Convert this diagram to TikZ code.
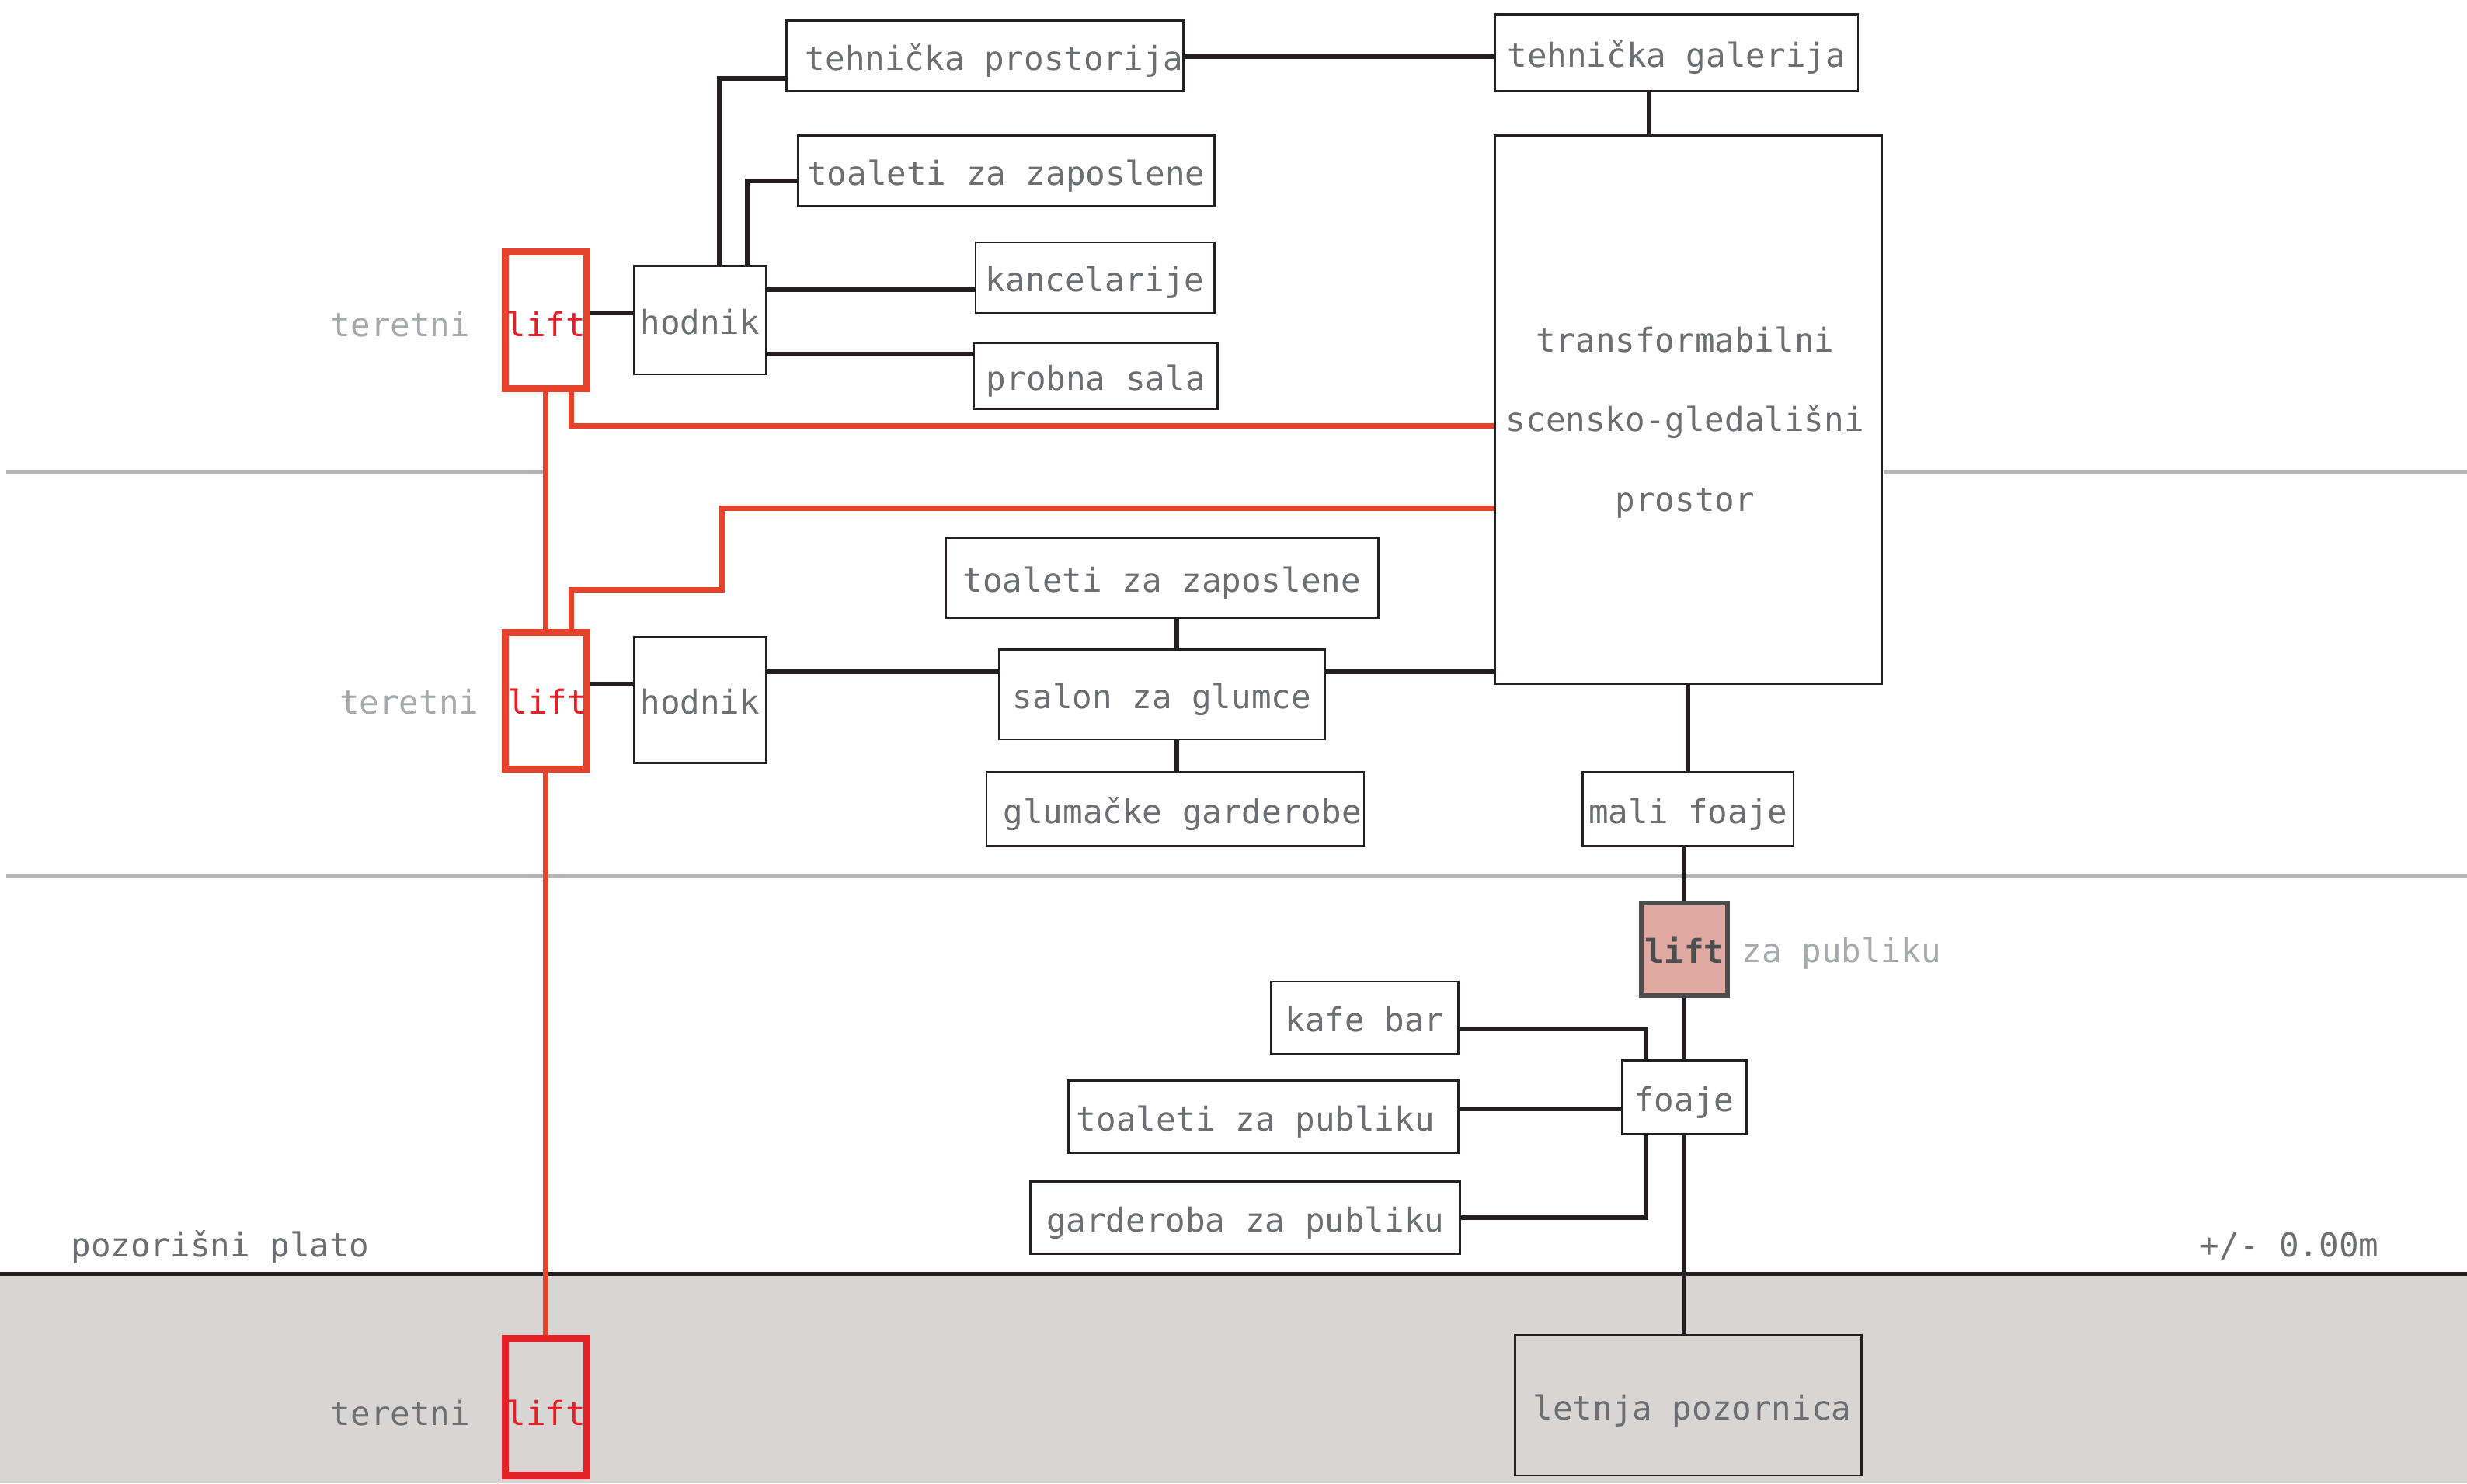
\documentclass[tikz,border=0pt]{standalone}
\usepackage{fontspec}
\newfontfamily\mono{DejaVu Sans Mono}
\definecolor{txtc}{HTML}{6D6E71}
\definecolor{lighttxt}{HTML}{A7A9AC}
\definecolor{redtxt}{HTML}{ED1C24}
\definecolor{redline}{HTML}{E5432B}
\definecolor{redbox}{HTML}{E22227}
\definecolor{conc}{HTML}{231F20}
\definecolor{floorc}{HTML}{B5B3B3}
\definecolor{groundc}{HTML}{D7D6D5}
\definecolor{pubfill}{HTML}{E0A9A1}
\definecolor{pubdraw}{HTML}{4D4D4F}
\tikzset{
  txtfont/.style={font=\mono\fontsize{21}{25}\selectfont, text height=18.5pt, text depth=0.5pt, inner sep=0pt},
  room/.style={txtfont, draw=conc, line width=1.3pt, fill=white, text=txtc},
  lbl/.style={txtfont, text=txtc},
  liftbox/.style={txtfont, draw=redline, line width=4.5pt, text=redtxt, minimum width=52pt, minimum height=87pt},
  conn/.style={draw=conc, line width=3pt},
  redconn/.style={draw=redline, line width=3.5pt},
  floorline/.style={draw=floorc, line width=3pt},
}
\begin{document}
\begin{tikzpicture}[x=1pt,y=-1pt]
\useasboundingbox (0,0) rectangle (1568,943);
% ground
\fill[groundc] (0,810) rectangle (1568,943);
\draw[conc, line width=2.5pt] (0,810) -- (1568,810);
% floor lines
\draw[floorline] (4,300) -- (345,300);
\draw[floorline] (1197,300) -- (1568,300);
\draw[floorline] (4,557) -- (1568,557);

% helper coordinates
\coordinate (a1) at (457,50);
\coordinate (a2) at (475,115);
\coordinate (a3) at (0,184);
\coordinate (a4) at (0,225);
\coordinate (a5) at (0,199);
\coordinate (a6) at (0,36);
\coordinate (a7) at (1048,0);
\coordinate (a8) at (0,435);
\coordinate (a9) at (0,427);
\coordinate (a10) at (748,0);
\coordinate (a11) at (0,654);
\coordinate (a12) at (1046,0);
\coordinate (a13) at (0,705);
\coordinate (a14) at (0,774);
\coordinate (r1) at (363,0);
\coordinate (r2) at (0,271);
\coordinate (r3) at (459,375);
\coordinate (r4) at (0,323);

% nodes
\path
 node[room, minimum width=252pt, minimum height=45pt] (tp) at (626,35.5) {\hspace*{12pt}tehnička prostorija}
 node[room, minimum width=265pt, minimum height=45pt] (tz1) at (639.5,108.5) {toaleti za zaposlene}
 node[room, minimum width=152pt, minimum height=45pt] (kanc) at (696,176.5) {kancelarije}
 node[room, minimum width=155pt, minimum height=42pt] (probna) at (696.5,239) {probna sala}
 node[room, minimum width=231pt, minimum height=49pt] (tg) at (1065.5,33.5) {tehnička galerija}
 node[room, minimum width=246pt, minimum height=349pt] (stage) at (1073,260.5) {}
 node[room, minimum width=84pt, minimum height=69pt] (hod1) at (445,203.5) {hodnik}
 node[room, minimum width=84pt, minimum height=80pt] (hod2) at (445,445) {hodnik}
 node[room, minimum width=207pt, minimum height=57pt] (salon) at (738.5,441.5) {salon za glumce}
 node[room, minimum width=275pt, minimum height=51pt] (tz2) at (738.5,367.5) {toaleti za zaposlene}
 node[room, minimum width=240pt, minimum height=47pt] (glum) at (747,514.5) {\hspace*{9pt}glumačke garderobe}
 node[room, minimum width=134pt, minimum height=47pt] (mali) at (1073,514.5) {mali foaje}
 node[room, minimum width=79pt, minimum height=47pt] (foaje) at (1070.5,697.5) {foaje}
 node[room, minimum width=119pt, minimum height=46pt] (kafe) at (867.5,647) {kafe bar}
 node[room, minimum width=248pt, minimum height=46pt] (tpub) at (803,710) {toaleti za publiku\hspace*{10pt}}
 node[room, minimum width=273pt, minimum height=46pt] (gpub) at (791.5,774) {garderoba za publiku}
 node[room, fill=none, minimum width=220pt, minimum height=89pt] (letnja) at (1073,893.5) {\hspace*{5pt}letnja pozornica}
 node[txtfont, draw=pubdraw, line width=3pt, fill=pubfill, text=pubdraw, minimum width=55pt, minimum height=59pt, font=\mono\bfseries\fontsize{21}{25}\selectfont] (publift) at (1070.5,603.5) {lift}
 node[liftbox] (toplift) at (347,203.5) {}
 node[liftbox] (midlift) at (347,445.5) {}
 node[liftbox, draw=redbox] (botlift) at (347,894.5) {};

% connectors
\draw[conn] (hod1.north -| a1) |- (tp.west |- a1);
\draw[conn] (hod1.north -| a2) |- (tz1.west |- a2);
\draw[conn] (hod1.east |- a3) -- (kanc.west |- a3);
\draw[conn] (hod1.east |- a4) -- (probna.west |- a4);
\draw[conn] (toplift.east |- a5) -- (hod1.west |- a5);
\draw[conn] (tp.east |- a6) -- (tg.west |- a6);
\draw[conn] (tg.south -| a7) -- (stage.north -| a7);
\draw[conn] (midlift.east |- a8) -- (hod2.west |- a8);
\draw[conn] (hod2.east |- a9) -- (salon.west |- a9);
\draw[conn] (salon.east |- a9) -- (stage.west |- a9);
\draw[conn] (salon.north -| a10) -- (tz2.south -| a10);
\draw[conn] (salon.south -| a10) -- (glum.north -| a10);
\draw[conn] (stage.south) -- (mali.north);
\draw[conn] (mali.south -| publift) -- (publift.north);
\draw[conn] (publift.south) -- (foaje.north);
\draw[conn] (kafe.east |- a11) -| (foaje.north -| a12);
\draw[conn] (tpub.east |- a13) -- (foaje.west |- a13);
\draw[conn] (gpub.east |- a14) -| (foaje.south -| a12);
\draw[conn] (foaje.south) -- (foaje.south |- letnja.north);

% red connectors
\draw[redconn] (toplift.south) -- (midlift.north);
\draw[redconn] (midlift.south) -- (botlift.north);
\draw[redconn] (toplift.south -| r1) |- (stage.west |- r2);
\draw[redconn] (midlift.north -| r1) |- (r3) |- (stage.west |- r4);

% stage text
\node[inner sep=0pt, text=txtc, align=center, font=\mono\fontsize{21}{50.5}\selectfont] (stagetxt) at (1071,268.5) {transformabilni\\scensko-gledališni\\prostor};

% lift labels
\node[txtfont, text=redtxt] (l1) at (347,205) {lift};
\node[txtfont, text=redtxt] (l2) at (348,445) {lift};
\node[txtfont, text=redtxt] (l3) at (347,897) {lift};
\node[txtfont, text=lighttxt] (t1) at (254.5,205) {teretni};
\node[txtfont, text=lighttxt] (t2) at (260,445) {teretni};
\node[txtfont, text=txtc] (t3) at (254.5,897) {teretni};
\node[txtfont, text=lighttxt, anchor=west] (zapub) at (1107,603) {za publiku};

\node[lbl] (plato) at (140,790) {pozorišni plato};
\node[lbl] (level) at (1455,790) {+/- 0.00m};
\end{tikzpicture}
\end{document}
